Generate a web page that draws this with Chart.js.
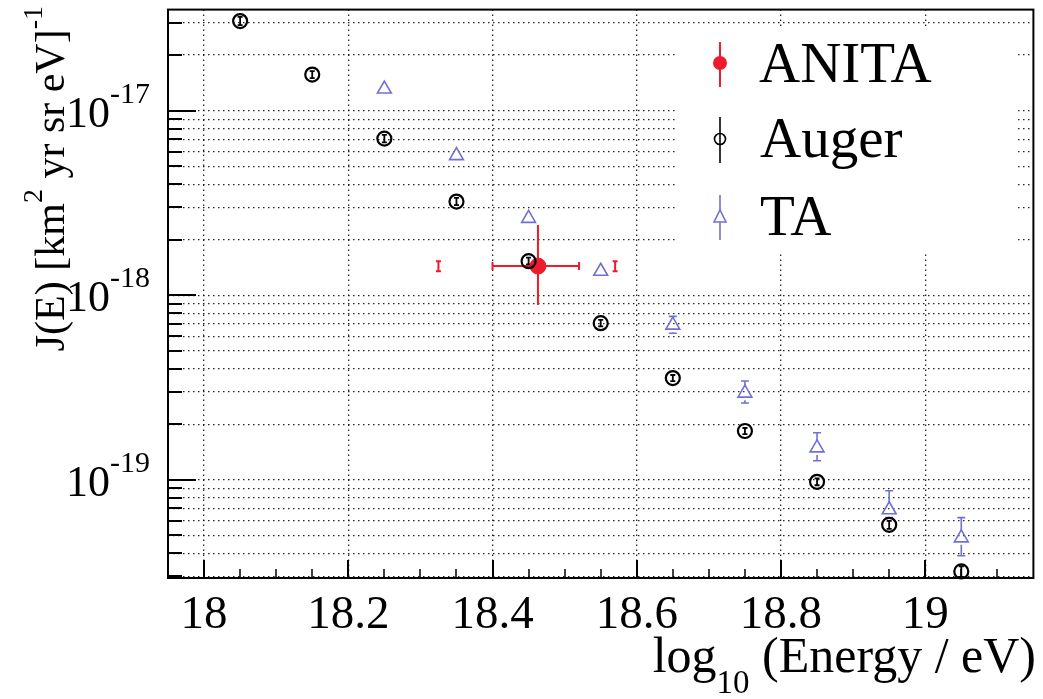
<!DOCTYPE html>
<html>
<head>
<meta charset="utf-8">
<script src="https://cdn.jsdelivr.net/npm/chart.js@4/dist/chart.umd.min.js"></script>
<style>
  html, body { margin: 0; padding: 0; background: #fff; }
  #wrap { width: 1043px; height: 699px; position: relative; }
</style>
</head>
<body>
<div id="wrap"><canvas id="chart"></canvas></div>
<script>
// Data
const augerX = [18.05, 18.15, 18.25, 18.35, 18.45, 18.55, 18.65, 18.75, 18.85, 18.95, 19.05];
const augerY = [3.06e-17, 1.57e-17, 7.06e-18, 3.22e-18, 1.53e-18, 7.06e-19, 3.56e-19, 1.84e-19, 9.76e-20, 5.71e-20, 3.19e-20];
const augerHi = [3.22e-17, 1.64e-17, 7.40e-18, 3.37e-18, 1.60e-18, 7.35e-19, 3.70e-19, 1.91e-19, 1.02e-19, 6.00e-20, 3.40e-20];
const augerLo = [2.91e-17, 1.50e-17, 6.73e-18, 3.08e-18, 1.47e-18, 6.78e-19, 3.43e-19, 1.77e-19, 9.35e-20, 5.42e-20, 2.98e-20];

const taX = [18.25, 18.35, 18.45, 18.55, 18.65, 18.75, 18.85, 18.95, 19.05];
const taY = [1.31e-17, 5.71e-18, 2.61e-18, 1.35e-18, 6.89e-19, 2.95e-19, 1.49e-19, 6.89e-20, 4.85e-20];
const taHi = [1.36e-17, 5.95e-18, 2.72e-18, 1.45e-18, 7.69e-19, 3.43e-19, 1.80e-19, 8.73e-20, 6.24e-20];
const taLo = [1.26e-17, 5.48e-18, 2.50e-18, 1.25e-18, 6.23e-19, 2.61e-19, 1.27e-19, 6.24e-20, 3.88e-20];

const anitaX = [18.463];
const anitaY = [1.44e-18];
const anitaXLo = [18.40];
const anitaXHi = [18.52];
const anitaHi = [2.40e-18];
const anitaLo = [8.87e-19];

// small red systematic markers either side of the ANITA point
const sysX = [18.325, 18.57];
const sysY = [1.44e-18, 1.44e-18];
const sysHi = [1.53e-18, 1.53e-18];
const sysLo = [1.35e-18, 1.35e-18];

// Axes
const xMin = 17.95, xMax = 19.15;
const yMin = 2.94e-20, yMax = 3.53e-17;
const xMajor = [18, 18.2, 18.4, 18.6, 18.8, 19];
const xTickLabels = ['18', '18.2', '18.4', '18.6', '18.8', '19'];
const xMinor = [18.05, 18.1, 18.15, 18.25, 18.3, 18.35, 18.45, 18.5, 18.55, 18.65, 18.7, 18.75, 18.85, 18.9, 18.95, 19.05, 19.1];
const yDecades = [-17, -18, -19];
const yDecadeLabels = ['-17', '-18', '-19'];

const SERIF = '"Liberation Serif", "DejaVu Serif", serif';
const RED = '#ec1c2c';
const BLUE = '#7070d4';
const GRID = 'rgba(0,0,0,0.85)';

// every 1..9 x 10^n inside the range gets a dotted grid line
const yGrid = [];
for (let e = -20; e <= -17; e++) {
    for (let m = 1; m <= 9; m++) {
        const v = m * Math.pow(10, e);
        if (v >= yMin && v <= yMax) yGrid.push(v);
    }
}

function pts(xs, ys) {
    return xs.map((x, i) => ({ x, y: ys[i] }));
}

// Error bars, frame, ticks, labels and legend
const decorPlugin = {
    id: 'decor',
    beforeDatasetsDraw(chart) {
        const ctx = chart.ctx;
        const xs = chart.scales.x, ys = chart.scales.y;

        // legend box hides grid
        ctx.save();
        ctx.fillStyle = '#fff';
        ctx.fillRect(676, 27, 340, 226);
        ctx.restore();

        ctx.save();
        ctx.lineCap = 'butt';

        // Auger bars (inside the open circles)
        ctx.strokeStyle = '#000';
        ctx.lineWidth = 1.8;
        augerX.forEach((x, i) => {
            const px = xs.getPixelForValue(x);
            const y1 = ys.getPixelForValue(augerHi[i]);
            const y2 = ys.getPixelForValue(augerLo[i]);
            ctx.beginPath();
            ctx.moveTo(px, y1); ctx.lineTo(px, y2);
            ctx.moveTo(px - 2.5, y1); ctx.lineTo(px + 2.5, y1);
            ctx.moveTo(px - 2.5, y2); ctx.lineTo(px + 2.5, y2);
            ctx.stroke();
        });

        // TA bars (outside the triangles)
        ctx.strokeStyle = BLUE;
        ctx.lineWidth = 1.6;
        taX.forEach((x, i) => {
            const px = xs.getPixelForValue(x);
            const py = ys.getPixelForValue(taY[i]);
            const y1 = ys.getPixelForValue(taHi[i]);
            const y2 = ys.getPixelForValue(taLo[i]);
            ctx.beginPath();
            if (py - y1 > 7) {
                ctx.moveTo(px, y1); ctx.lineTo(px, py - 7);
                ctx.moveTo(px - 4, y1); ctx.lineTo(px + 4, y1);
            }
            if (y2 - py > 7) {
                ctx.moveTo(px, py + 7); ctx.lineTo(px, y2);
                ctx.moveTo(px - 4, y2); ctx.lineTo(px + 4, y2);
            }
            ctx.stroke();
        });

        // ANITA cross
        ctx.strokeStyle = RED;
        ctx.lineWidth = 2;
        anitaX.forEach((x, i) => {
            const px = xs.getPixelForValue(x);
            const py = ys.getPixelForValue(anitaY[i]);
            const xl = xs.getPixelForValue(anitaXLo[i]);
            const xh = xs.getPixelForValue(anitaXHi[i]);
            const yh = ys.getPixelForValue(anitaHi[i]);
            const yl = ys.getPixelForValue(anitaLo[i]);
            ctx.beginPath();
            ctx.moveTo(xl, py); ctx.lineTo(xh, py);
            ctx.moveTo(px, yh); ctx.lineTo(px, yl);
            ctx.moveTo(xl, py - 4); ctx.lineTo(xl, py + 4);
            ctx.moveTo(xh, py - 4); ctx.lineTo(xh, py + 4);
            ctx.stroke();
        });

        // systematic markers
        sysX.forEach((x, i) => {
            const px = xs.getPixelForValue(x);
            const y1 = ys.getPixelForValue(sysHi[i]);
            const y2 = ys.getPixelForValue(sysLo[i]);
            ctx.beginPath();
            ctx.moveTo(px, y1); ctx.lineTo(px, y2);
            ctx.moveTo(px - 2.5, y1); ctx.lineTo(px + 2.5, y1);
            ctx.moveTo(px - 2.5, y2); ctx.lineTo(px + 2.5, y2);
            ctx.stroke();
        });
        ctx.restore();
    },
    afterDraw(chart) {
        const ctx = chart.ctx;
        const a = chart.chartArea;
        const xs = chart.scales.x, ys = chart.scales.y;
        ctx.save();

        // inward ticks
        ctx.strokeStyle = '#000';
        ctx.lineWidth = 2;
        yGrid.forEach(v => {
            const py = Math.round(ys.getPixelForValue(v));
            const major = Math.abs(Math.log10(v) - Math.round(Math.log10(v))) < 1e-6;
            ctx.beginPath();
            ctx.moveTo(a.left, py);
            ctx.lineTo(a.left + (major ? 28 : 14), py);
            ctx.stroke();
        });
        xMajor.forEach(v => {
            const px = Math.round(xs.getPixelForValue(v));
            ctx.beginPath();
            ctx.moveTo(px, a.bottom); ctx.lineTo(px, a.bottom - 18);
            ctx.stroke();
        });
        ctx.lineWidth = 1.5;
        xMinor.forEach(v => {
            const px = Math.round(xs.getPixelForValue(v));
            ctx.beginPath();
            ctx.moveTo(px, a.bottom); ctx.lineTo(px, a.bottom - 9);
            ctx.stroke();
        });

        // frame
        ctx.lineWidth = 2;
        ctx.strokeRect(a.left, a.top, a.right - a.left, a.bottom - a.top);

        // x tick labels
        ctx.fillStyle = '#000';
        ctx.font = '47px ' + SERIF;
        ctx.textAlign = 'center';
        ctx.textBaseline = 'alphabetic';
        xMajor.forEach((v, i) => {
            ctx.fillText(xTickLabels[i], xs.getPixelForValue(v), 628);
        });

        // y tick labels 10^n
        ctx.textAlign = 'left';
        yDecades.forEach((e, i) => {
            const py = ys.getPixelForValue(Math.pow(10, e));
            ctx.font = '44px ' + SERIF;
            ctx.fillText('10', 66, py + 16);
            ctx.font = '30px ' + SERIF;
            ctx.fillText(yDecadeLabels[i], 110, py - 8);
        });

        // x title: log10 (Energy / eV)
        ctx.font = '50px ' + SERIF;
        const mainTail = ' (Energy / eV)';
        const wLog = ctx.measureText('log').width;
        const wTail = ctx.measureText(mainTail).width;
        ctx.font = '33px ' + SERIF;
        const wSub = ctx.measureText('10').width;
        let tx = 1036 - (wLog + wSub + wTail);
        ctx.font = '50px ' + SERIF;
        ctx.fillText('log', tx, 672);
        ctx.font = '33px ' + SERIF;
        ctx.fillText('10', tx + wLog, 693);
        ctx.font = '50px ' + SERIF;
        ctx.fillText(mainTail, tx + wLog + wSub, 672);

        // y title: J(E) [km^2 yr sr eV]^-1, rotated
        ctx.save();
        ctx.translate(64, 0);
        ctx.rotate(-Math.PI / 2);
        const p1 = 'J(E) [km', s1 = '2', p2 = ' yr sr eV]', s2 = '-1';
        ctx.font = '42px ' + SERIF;
        const w1 = ctx.measureText(p1).width, w2 = ctx.measureText(p2).width;
        ctx.font = '28px ' + SERIF;
        const ws1 = ctx.measureText(s1).width, ws2 = ctx.measureText(s2).width;
        let t = -6 - (w1 + ws1 + w2 + ws2);
        ctx.font = '42px ' + SERIF;
        ctx.fillText(p1, t, 0); t += w1;
        ctx.font = '28px ' + SERIF;
        ctx.fillText(s1, t, -22); t += ws1;
        ctx.font = '42px ' + SERIF;
        ctx.fillText(p2, t, 0); t += w2;
        ctx.font = '28px ' + SERIF;
        ctx.fillText(s2, t, -22);
        ctx.restore();

        // legend
        ctx.font = '57px ' + SERIF;
        ctx.fillStyle = '#000';
        ctx.fillText('ANITA', 759, 82);
        ctx.fillText('Auger', 760, 157);
        ctx.fillText('TA', 760, 235);

        ctx.lineWidth = 2;
        ctx.strokeStyle = RED;
        ctx.beginPath(); ctx.moveTo(720, 42); ctx.lineTo(720, 87); ctx.stroke();
        ctx.fillStyle = RED;
        ctx.beginPath(); ctx.arc(720, 63, 7, 0, Math.PI * 2); ctx.fill();

        ctx.strokeStyle = '#000';
        ctx.lineWidth = 1.6;
        ctx.beginPath(); ctx.moveTo(720, 117); ctx.lineTo(720, 163); ctx.stroke();
        ctx.beginPath(); ctx.arc(720, 139, 5.5, 0, Math.PI * 2); ctx.stroke();

        ctx.strokeStyle = BLUE;
        ctx.beginPath(); ctx.moveTo(720, 195); ctx.lineTo(720, 240); ctx.stroke();
        ctx.fillStyle = '#fff';
        ctx.beginPath();
        ctx.moveTo(720, 210); ctx.lineTo(726, 222); ctx.lineTo(714, 222); ctx.closePath();
        ctx.fill(); ctx.stroke();

        ctx.restore();
    }
};

new Chart(document.getElementById('chart'), {
    type: 'scatter',
    data: {
        datasets: [
            {
                label: 'Auger',
                data: pts(augerX, augerY),
                pointStyle: 'circle',
                pointRadius: 7,
                borderColor: '#000',
                backgroundColor: 'rgba(0,0,0,0)',
                pointBorderWidth: 2.2,
                clip: false
            },
            {
                label: 'TA',
                data: pts(taX, taY),
                pointStyle: 'triangle',
                pointRadius: 8,
                borderColor: BLUE,
                backgroundColor: 'rgba(0,0,0,0)',
                pointBorderWidth: 1.6,
                clip: false
            },
            {
                label: 'ANITA',
                data: pts(anitaX, anitaY),
                pointStyle: 'circle',
                pointRadius: 8,
                borderColor: RED,
                backgroundColor: RED,
                pointBorderWidth: 1,
                clip: false
            }
        ]
    },
    options: {
        responsive: true,
        maintainAspectRatio: false,
        animation: false,
        events: [],
        layout: { padding: { left: 168, top: 5, right: 5, bottom: 121 } },
        plugins: { legend: { display: false }, tooltip: { enabled: false } },
        scales: {
            x: {
                type: 'linear',
                min: xMin,
                max: xMax,
                afterBuildTicks: s => { s.ticks = xMajor.map(v => ({ value: v })); },
                afterFit: s => { s.height = 0; },
                ticks: { display: false },
                grid: { color: GRID, lineWidth: 1.3, drawTicks: false },
                border: { display: false, dash: [1.5, 3.5] }
            },
            y: {
                type: 'logarithmic',
                min: yMin,
                max: yMax,
                afterBuildTicks: s => { s.ticks = yGrid.map(v => ({ value: v })); },
                afterFit: s => { s.width = 0; },
                ticks: { display: false },
                grid: { color: GRID, lineWidth: 1.3, drawTicks: false },
                border: { display: false, dash: [1.5, 3.5] }
            }
        }
    },
    plugins: [decorPlugin]
});
</script>
</body>
</html>
